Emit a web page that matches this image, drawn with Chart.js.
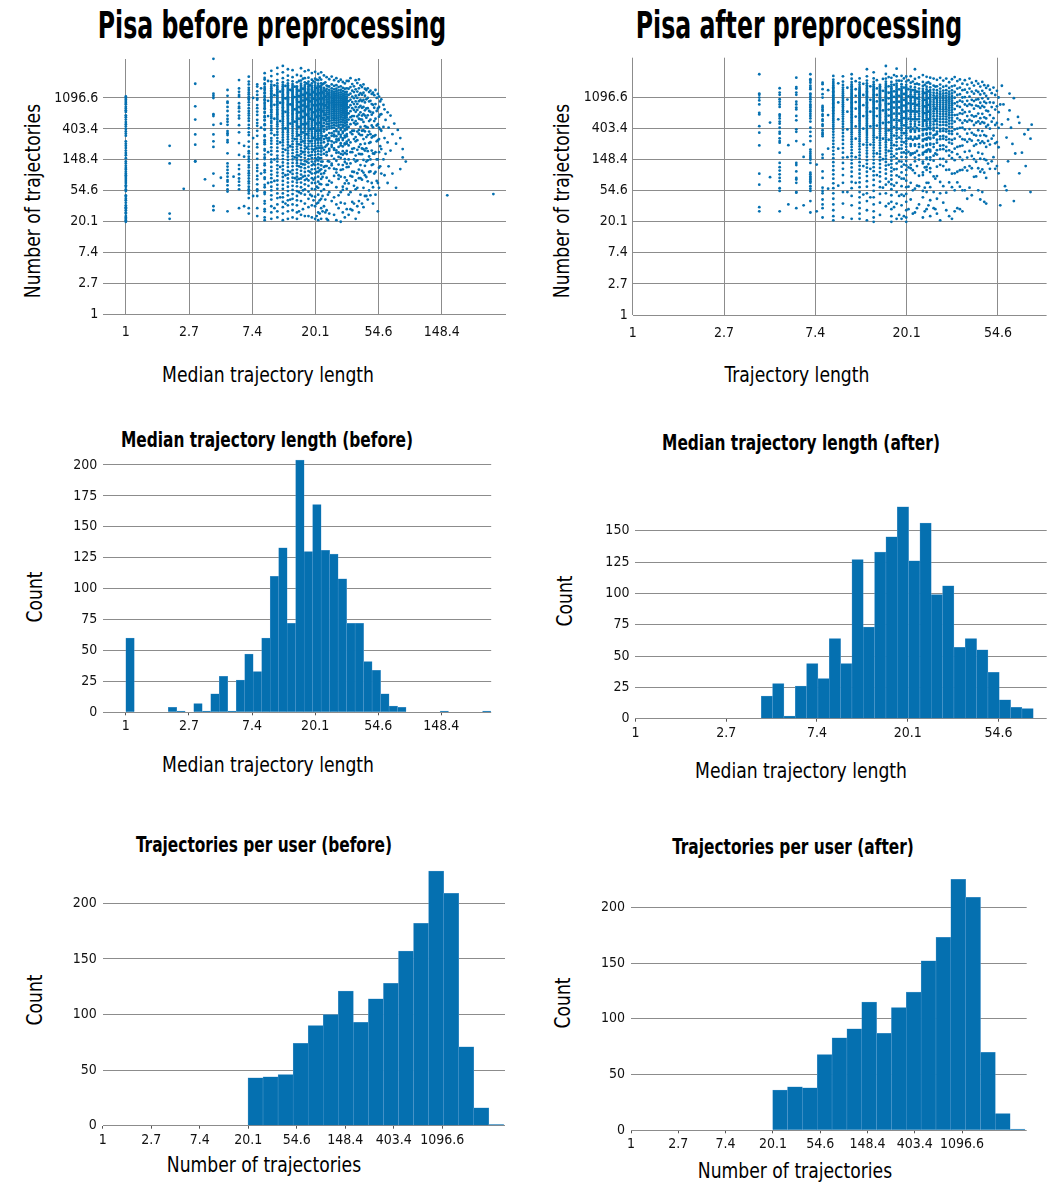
<!DOCTYPE html>
<html>
<head>
<meta charset="utf-8">
<script src="https://cdn.jsdelivr.net/npm/chart.js@4.4.1/dist/chart.umd.min.js"></script>
<style>
  body { margin: 0; background: #fff; }
  #page { position: relative; width: 1048px; height: 1183px; overflow: hidden;
          font-family: "DejaVu Sans Condensed", "DejaVu Sans", sans-serif; color: #000; }
  #page canvas { position: absolute; }
  .lbl { position: absolute; white-space: nowrap; line-height: 1; }
  .big { font-weight: bold; font-size: 37px; transform: translate(-50%, -50%) scaleX(0.71); }
  .sub { font-weight: bold; font-size: 21px; transform: translate(-50%, -50%) scaleX(0.815); }
  .ax { font-size: 21px; transform: translate(-50%, -50%) scaleX(0.91); }
  .ax.rot { transform: translate(-50%, -50%) rotate(-90deg) scaleX(0.91); }
</style>
</head>
<body>
<div id="page">
  <div class="lbl big" style="left:272px; top:25px">Pisa before preprocessing</div>
  <div class="lbl big" style="left:799px; top:25px">Pisa after preprocessing</div>
  <div class="lbl ax" style="left:268px; top:375px">Median trajectory length</div>
  <div class="lbl ax rot" style="left:33px; top:201px">Number of trajectories</div>
  <div class="lbl ax" style="left:797px; top:375px">Trajectory length</div>
  <div class="lbl ax rot" style="left:562px; top:201px">Number of trajectories</div>

  <div class="lbl sub" style="left:267px; top:440px">Median trajectory length (before)</div>
  <div class="lbl ax" style="left:268px; top:765px">Median trajectory length</div>
  <div class="lbl ax rot" style="left:35px; top:597px">Count</div>
  <div class="lbl sub" style="left:801px; top:443px">Median trajectory length (after)</div>
  <div class="lbl ax" style="left:801px; top:771px">Median trajectory length</div>
  <div class="lbl ax rot" style="left:565px; top:601px">Count</div>

  <div class="lbl sub" style="left:264px; top:845px">Trajectories per user (before)</div>
  <div class="lbl ax" style="left:264px; top:1165px">Number of trajectories</div>
  <div class="lbl ax rot" style="left:35px; top:1000px">Count</div>
  <div class="lbl sub" style="left:793px; top:847px">Trajectories per user (after)</div>
  <div class="lbl ax" style="left:795px; top:1171px">Number of trajectories</div>
  <div class="lbl ax rot" style="left:563px; top:1003px">Count</div>
</div>
<script>
// tick labels sit at e^0, e^1, e^2, ...
const tickLabels = ['1', '2.7', '7.4', '20.1', '54.6', '148.4', '403.4', '1096.6'];

// --- per-user scatter, before preprocessing: one column per median value ---
const beforeMedian = [1, 2, 2.5, 3, 3.5, 4, 4.5, 5, 5.5, 6, 6.5, 7, 7.5, 8, 8.5, 9, 9.5, 10, 10.5, 11, 11.5,
  12, 12.5, 13, 13.5, 14, 14.5, 15, 15.5, 16, 16.5, 17, 17.5, 18, 18.5, 19, 19.5, 20, 20.5, 21, 21.5, 22, 22.5,
  23, 23.5, 24, 24.5, 25, 26, 27, 28, 29, 30, 31, 32, 33, 34, 35, 36, 37, 38, 39, 40, 41, 42, 43, 44, 45, 46,
  47, 48, 49, 50, 51, 52, 53, 54, 55, 56, 57, 59, 60, 61, 63, 64, 66, 68, 70, 72, 74, 77, 80, 84, 162, 336];
const beforeTrajectories = [
  [1153,1097,1043,992,944,898,829,781,735,699,626,590,545,503,469,437,403,372,347,324,270,250,233,217,200,185,172,156,141,132,122,114,108,101,95,90,85,80,75,70,65,62,57,54,47,45,42,40,37,34,32,31,29,27,26,24,23,22,21,20],
  [233,132,26,22],
  [58],
  [1740,837,545,337,242,142,140],
  [79],
  [3900,2208,1260,1180,1097,650,610,460,337,270,225,95,64,33,29],
  [478,83],
  [1420,1176,973,934,821,720,620,556,508,460,376,351,330,281,262,183,132,119,107,96,86,77,73,65,57,53,28],
  [86],
  [1960,1495,1339,1212,1141,925,829,788,706,620,567,455,361,255,174,125,110,93,81,73,65,57,31],
  [233,164,33],
  [2186,1863,1703,1525,1422,1313,1236,1141,1085,1033,953,871,788,720,665,620,567,523,459,412,361,330,268,226,196,183,164,151,140,125,116,104,96,89,81,74,69,62,57,54,50,43,31,26],
  [1100,300,46],
  [1703,1585,1360,1212,1085,1033,871,788,706,634,541,487,446,379,322,247,222,180,153,125,114,103,88,79,67,57,54,46,31,24],
  [1500,420,95],
  [2450,2100,1990,1760,1700,1560,1480,1420,1310,1270,1170,1130,1050,1010,940,900,845,790,770,700,675,610,590,540,530,470,455,400,392,330,318,280,262,246,210,200,176,160,152,131,124,106,99,84,80,66,61,52,49,39,36,30,28,23,21],
  [1900,1000,610,190,70],
  [2640,2230,1870,1690,1580,1500,1410,1350,1280,1225,1160,1120,1065,1000,960,905,860,820,760,725,690,640,600,566,520,490,445,410,385,350,300,276,250,222,198,176,150,137,118,104,92,82,72,62,55,47,41,33,27,22],
  [1650,1200,880,560,330,150,75,31],
  [2900,2380,1960,1760,1620,1530,1450,1380,1320,1255,1190,1140,1080,1030,985,935,890,850,805,760,720,680,650,610,575,545,505,470,438,402,365,334,300,272,248,220,196,170,155,140,124,110,98,88,76,66,58,50,43,35,28,23],
  [1350,940,520,260,118,44],
  [3100,2520,2080,1830,1690,1600,1520,1460,1400,1345,1290,1240,1190,1150,1110,1075,1035,995,955,915,880,845,810,775,740,705,670,640,608,575,545,515,482,450,420,392,362,334,306,282,260,236,212,190,170,152,136,122,108,96,85,75,66,58,50,44,38,32,26,21],
  [1620,1080,700,410,205,90,36],
  [2780,2260,1940,1760,1650,1570,1490,1430,1375,1320,1265,1215,1165,1125,1085,1050,1010,970,932,895,860,826,792,758,725,692,660,628,596,566,536,506,476,447,418,390,362,336,312,288,264,242,220,200,182,164,148,132,118,104,92,81,71,62,54,47,40,34,28,22],
  [1420,890,480,230,100,41],
  [2700,2150,1880,1720,1630,1545,1475,1410,1355,1300,1250,1205,1160,1120,1080,1040,1002,966,930,896,862,830,798,766,735,704,672,642,612,582,552,522,492,463,434,404,376,348,322,296,270,246,224,204,184,166,150,134,120,106,94,83,73,64,56,49,42,35,29,23],
  [1580,1130,760,510,290,160,82],
  [2310,1820,1600,1510,1455,1390,1330,1290,1240,1180,1130,1095,1050,1010,965,930,880,845,805,770,735,700,668,630,600,570,540,510,482,455,430,398,370,345,318,290,268,248,228,208,190,172,158,145,133,122,108,96,86,78,71,63,54,46,40,34,27,22],
  [1900,1390,1160,960,820,690,560,430,330,245,170,120,80,52,28],
  [2870,2240,1930,1740,1640,1560,1495,1435,1380,1328,1278,1232,1188,1146,1106,1068,1030,992,956,920,886,852,818,786,754,722,690,658,628,598,568,538,508,478,448,420,392,364,338,312,288,264,240,218,198,180,162,146,131,117,104,92,81,71,61,50,39,25],
  [2050,1480,1210,1010,860,720,590,470,360,270,190,128,86,55,30],
  [2600,2080,1820,1670,1580,1505,1440,1385,1330,1280,1235,1190,1148,1108,1070,1032,996,960,925,890,856,822,790,758,726,694,663,632,602,572,542,513,484,455,427,400,373,347,322,298,275,253,232,212,193,175,158,142,127,113,100,88,77,67,57,48,36,24],
  [1760,1290,1050,830,640,480,340,220,140,80],
  [2700,2120,1860,1700,1600,1520,1450,1390,1335,1283,1233,1186,1141,1098,1057,1017,978,940,903,867,832,798,765,732,700,668,637,606,576,546,516,487,458,430,402,375,349,323,298,274,251,229,208,188,169,151,134,118,103,89,76,64,53,42,32,24],
  [1650,1220,980,760,560,400,270,170,100,48],
  [2460,1980,1760,1620,1530,1455,1390,1332,1278,1228,1180,1134,1090,1048,1008,968,930,893,857,822,788,755,722,690,658,627,596,566,536,507,478,450,422,395,369,344,320,296,273,251,230,210,191,173,156,140,124,109,95,82,70,58,46,34,23],
  [1880,1320,1070,870,690,540,410,300,205,130,78,40],
  [2560,2050,1800,1650,1555,1478,1410,1350,1296,1245,1197,1151,1107,1065,1025,986,948,911,875,840,806,773,741,709,678,647,617,587,558,529,501,473,446,419,393,368,343,319,296,274,252,231,211,192,174,157,141,125,110,96,83,70,57,45,33,22],
  [1990,1520,1240,1030,870,730,600,480,380,290,215,150,100,62,36,24],
  [2400,1950,1740,1610,1520,1448,1384,1326,1273,1223,1176,1131,1088,1046,1006,967,929,892,856,821,787,754,721,689,657,626,596,566,536,507,479,451,424,397,371,346,322,299,277,256,235,215,196,178,161,145,129,114,100,86,73,60,48,37,27,21],
  [2110,1580,1280,1070,900,750,610,490,385,295,220,155,105,68,40,26],
  [2520,1990,1760,1625,1532,1458,1392,1333,1279,1228,1180,1134,1090,1048,1007,968,930,893,857,822,788,755,722,690,659,628,598,568,539,510,482,454,427,400,374,349,325,301,278,256,235,214,194,175,157,140,124,109,94,80,67,54,42,31,22],
  [1710,1310,1080,890,720,570,440,320,220,140,85,46,28],
  [2280,1760,1520,1400,1300,1215,1140,1070,1005,945,888,835,782,730,680,630,582,535,490,445,402,371,290,262,205,180,118,96,57,33],
  [1820,1390,1150,870,640,540,318,226,121,104,41,27],
  [2150,1640,1470,1360,1270,1190,1120,1055,995,938,884,832,783,735,689,645,600,556,512,470,428,395,330,298,236,190,172,121,83,66,29,22],
  [1600,1260,960,810,585,470,275,248,142,66,48,21],
  [2010,1590,1420,1310,1230,1160,1095,1035,978,925,874,826,778,732,688,645,602,560,518,478,438,410,352,301,279,211,199,140,113,75,52,26],
  [2190,1700,1500,1380,1290,1210,1140,1075,1015,958,904,852,802,754,707,662,618,575,532,490,449,415,351,322,270,240,226,169,131,124,71,39],
  [1950,1620,1450,1340,1255,1182,1115,1054,996,942,890,840,792,746,701,658,616,575,535,495,456,421,372,335,318,259,214,205,153,111,88,44,25],
  [2080,1660,1480,1365,1276,1200,1132,1068,1009,953,899,847,797,749,703,658,614,571,529,488,448,401,377,318,287,266,201,186,144,109,98,61,35,21],
  [1870,1560,1400,1295,1212,1140,1075,1014,957,903,851,801,753,707,662,619,577,536,496,457,430,365,341,292,280,225,188,163,127,90,80,47,31],
  [1980,1600,1430,1315,1225,1148,1078,1013,952,894,839,786,735,686,639,593,549,506,464,415,391,333,310,254,236,180,158,107,86,52,37,20],
  [1840,1520,1370,1265,1182,1110,1044,983,925,870,817,767,718,671,626,582,540,499,459,428,370,352,296,281,229,196,175,125,109,62,56,27],
  [1760,1480,1335,1236,1156,1086,1022,962,905,851,800,750,702,656,612,569,527,487,448,402,384,325,306,252,244,184,151,138,84,69,36,23],
  [1900,1500,1340,1230,1145,1070,1002,940,882,827,775,725,677,631,586,543,502,462,423,396,341,318,268,250,198,179,131,117,76,58,30],
  [1900,1480,1212,992,812,665,545,430,282,236,150,118,69,48,25],
  [2080,1560,1260,1040,870,715,590,470,360,260,190,132,88,52,30],
  [1720,1390,1150,960,790,610,540,380,340,212,190,101,86,38,29],
  [1600,1330,1090,900,745,610,490,380,290,215,150,100,64,36],
  [1950,1450,1180,980,820,700,520,465,310,270,170,140,76,57,22],
  [1780,1350,1100,905,745,605,480,370,280,205,145,96,60,33],
  [2000,1500,1210,990,810,640,560,390,345,225,180,108,82,39,27],
  [1650,1280,1040,850,690,550,430,330,245,178,125,82,48],
  [1560,1220,990,800,620,545,380,330,214,178,104,78,36],
  [1700,1300,1030,820,650,505,385,290,210,148,98,60,32],
  [1480,1180,950,735,620,440,372,250,200,122,90,46],
  [1420,1050,780,580,430,310,215,140,85,46],
  [1500,1100,790,625,420,330,196,146,74,41],
  [1330,980,720,520,370,255,165,100,55],
  [1390,1000,700,545,340,262,150,102,47],
  [1250,900,640,450,305,200,125,70],
  [1300,880,680,425,318,182,128,61,36],
  [1200,800,520,320,180,95],
  [1420,900,560,330,190,100,48],
  [1100,720,450,270,150,75],
  [1250,780,470,280,150,70,28],
  [1150,820,600,420,290,190,115,60],
  [980,640,400,230,120],
  [1050,650,380,210,95],
  [880,430,150],
  [760,300,90],
  [540,180],
  [690,260,70],
  [420,120],
  [620,200],
  [340,95],
  [480],
  [250,60],
  [390],
  [300,110],
  [210,160],
  [140],
  [47],
  [49]
];

// --- per-user scatter, after preprocessing ---
const afterMedian = [4, 4.5, 5, 5.5, 6, 6.5, 7, 7.5, 8, 8.5, 9, 9.5, 10, 10.5, 11, 11.5, 12, 12.5, 13, 13.5,
  14, 14.5, 15, 15.5, 16, 16.5, 17, 17.5, 18, 18.5, 19, 19.5, 20, 20.5, 21, 21.5, 22, 22.5, 23, 24, 24.5, 25,
  25.5, 26, 27, 27.5, 28, 29, 30, 31, 32, 33, 34, 35, 36, 37, 38, 39, 40, 41, 42, 43, 44, 45, 46, 47, 48, 49,
  50, 51, 52, 53, 54, 55, 56, 57, 58, 59, 60, 61, 62, 63, 64, 65, 66, 68, 69, 71, 73, 74, 76, 78, 79];
const afterTrajectories = [
  [4150,2300,1236,1188,1085,992,871,665,633,433,351,233,94,66,32,28],
  [487,84],
  [1466,1275,1188,1033,953,871,804,633,602,556,503,469,412,361,340,293,268,255,185,133,116,104,92,82,74,59,54,28],
  [235,35],
  [2060,1525,1451,1275,1188,953,871,788,742,602,523,392,361,268,133,124,101,82,78,70,52,51,31],
  [240,161,34],
  [2300,1960,1863,1755,1590,1495,1422,1236,1188,1110,1033,953,871,829,788,735,692,645,602,556,503,412,361,314,268,204,190,178,166,156,148,133,97,92,86,82,78,74,70,63,58,54,39,27],
  [126,28],
  [1755,1670,1422,1212,1085,829,788,742,706,633,602,539,513,459,437,380,351,334,314,174,156,101,82,60,54,50,41,35,31,23],
  [1380,620,210,58],
  [2180,1930,1800,1690,1600,1520,1450,1385,1330,1275,1220,1170,1120,1075,1030,985,945,905,865,830,795,760,725,690,655,620,585,550,520,488,455,425,395,362,330,300,272,245,220,196,175,155,136,120,105,92,80,69,59,50,42,35,29,24,21],
  [1720,930,540,210,64],
  [2150,1820,1630,1500,1400,1315,1240,1170,1105,1045,985,930,875,825,775,725,680,635,590,548,505,465,425,385,348,312,278,245,214,185,158,133,110,90,70,52,36,23],
  [1490,1020,690,390,160,52],
  [2300,1990,1790,1660,1565,1485,1415,1352,1295,1242,1192,1145,1100,1057,1016,976,938,901,865,830,796,763,731,699,668,638,608,578,549,520,492,464,436,409,383,357,332,308,285,263,242,221,201,182,164,147,131,115,100,86,72,59,46,34,22],
  [1840,1420,1150,940,760,590,430,290,160,70],
  [2010,1760,1640,1525,1450,1390,1338,1290,1245,1203,1163,1125,1088,1052,1017,983,950,918,886,855,825,795,766,737,709,681,654,627,600,574,548,523,498,473,449,425,401,378,355,332,310,288,267,246,226,206,187,169,152,136,121,107,94,82,71,61,52,44,37,31,26,22],
  [1690,1180,850,600,400,240,120,48],
  [2700,2150,1880,1720,1610,1525,1452,1388,1330,1276,1226,1179,1134,1091,1050,1010,972,935,899,864,830,797,765,733,702,672,642,613,584,556,528,501,474,448,422,397,372,348,325,302,280,258,237,217,198,180,162,145,129,114,100,87,74,62,50,39,29,21],
  [1560,1010,690,430,240,110,44],
  [2450,2010,1800,1665,1568,1490,1422,1362,1307,1256,1208,1163,1120,1079,1040,1002,965,929,894,860,827,795,763,732,701,671,641,612,583,555,527,500,473,447,421,396,371,347,324,301,279,258,237,217,198,180,163,147,131,116,102,89,77,65,54,44,35,28,23,20],
  [1900,1460,1180,960,770,600,440,300,180,90],
  [1640,1560,1490,1428,1372,1320,1271,1225,1181,1139,1099,1060,1022,985,949,914,880,847,814,782,751,720,690,660,631,602,574,546,519,492,466,440,415,390,366,342,319,297,275,254,234,214,195,177,160,144,128,113,99,86,73,61,49,37,25],
  [1980,1350,1000,720,480,290,150,60],
  [3000,2320,2000,1810,1685,1590,1512,1444,1383,1327,1275,1226,1180,1136,1094,1054,1015,977,941,906,872,839,807,775,744,714,684,655,626,598,570,543,516,490,464,439,414,390,367,344,322,300,279,259,239,220,202,185,168,152,137,122,108,94,80,66,50,33],
  [2100,1560,1270,1060,890,740,610,490,380,280,195,125,72,36],
  [2050,1800,1650,1545,1462,1392,1330,1274,1222,1174,1128,1085,1044,1004,966,929,893,858,824,791,759,727,696,666,636,607,578,550,522,495,468,442,416,391,366,342,319,296,274,253,233,213,194,176,159,143,128,114,101,89,78,67,57,47,38,30,24,20],
  [2240,1640,1330,1110,935,785,650,530,420,320,235,165,108,64,32],
  [2750,2150,1870,1700,1580,1485,1405,1334,1270,1211,1156,1104,1054,1006,960,915,871,828,786,745,705,666,628,591,554,518,483,449,415,382,350,319,289,260,232,205,179,154,131,109,89,70,52,36,22],
  [1870,1410,1150,950,790,650,520,400,300,210,140,85,46,25],
  [2190,1860,1670,1545,1448,1368,1298,1235,1177,1123,1072,1023,976,931,887,845,804,764,725,687,650,614,578,543,509,476,443,411,380,350,320,291,263,236,210,185,161,139,118,98,80,63,48,34,22],
  [2010,1500,1220,1010,840,690,560,445,345,258,186,126,80,46,24],
  [2140,1820,1640,1520,1425,1346,1277,1215,1158,1105,1055,1008,963,920,878,838,799,761,724,688,653,619,586,553,521,490,460,430,401,373,346,320,295,270,246,223,201,180,160,141,123,106,90,75,61,49,38,29,23,20],
  [1900,1420,1130,900,710,550,410,290,190,115,62,30],
  [2160,1750,1540,1400,1295,1208,1132,1063,999,939,882,828,776,726,678,632,588,545,504,464,425,380,362,309,290,244,229,180,171,125,112,70,41],
  [1820,1380,1110,890,700,540,400,280,180,105,55,26],
  [2700,1980,1680,1505,1380,1280,1195,1120,1052,989,930,874,821,770,721,674,629,585,543,502,463,431,379,360,306,292,241,230,185,158,140,96,58,27],
  [1700,1310,1060,860,690,540,405,290,195,120,64,31],
  [2080,1660,1450,1310,1200,1108,1027,953,885,821,760,702,647,595,545,497,451,398,372,318,296,243,221,170,148,88,63,35],
  [2240,1800,1580,1440,1335,1250,1177,1112,1052,996,944,894,847,802,759,718,678,640,603,567,532,498,465,433,395,380,337,322,281,270,230,221,183,174,139,131,98,90,54,44,23],
  [1640,1250,1010,820,660,520,395,285,190,115,60,28],
  [2120,1740,1540,1410,1310,1228,1157,1094,1036,982,932,884,839,796,755,715,677,640,604,569,535,502,470,439,401,386,344,331,292,281,243,233,199,190,158,150,117,106,70,52,30],
  [1780,1330,1070,860,690,540,410,300,205,128,70,34],
  [2060,1700,1510,1385,1288,1208,1139,1077,1021,969,920,874,830,788,748,710,673,637,602,568,535,503,472,442,406,392,349,337,297,286,248,238,202,192,159,147,112,99,61,40,24],
  [2000,1600,1400,1270,1170,1085,1010,940,875,815,757,702,649,598,549,502,457,413,380,322,298,244,221,168,143,86,52,31],
  [1550,1080,760,520,330,180,80,30],
  [1920,1560,1375,1250,1155,1075,1004,938,876,817,760,705,652,601,552,504,458,413,362,336,280,255,200,174,118,87,42,26],
  [2050,1650,1450,1315,1213,1128,1053,985,921,860,802,746,692,640,590,541,494,448,397,368,312,285,231,205,151,125,72,50,21],
  [1880,1540,1360,1238,1143,1063,992,926,864,805,749,695,643,593,544,497,452,401,372,316,289,234,207,151,120,63,37],
  [2000,1580,1380,1250,1150,1068,995,928,865,805,748,693,640,589,540,492,446,394,364,307,279,223,195,138,106,51,29],
  [1780,1480,1315,1200,1110,1033,963,898,837,778,722,668,616,566,517,470,424,372,342,285,256,199,168,107,71,24],
  [1960,1560,1370,1240,1140,1057,983,915,851,790,732,676,622,570,520,471,423,369,337,278,247,188,155,94,61,22],
  [2100,1600,1300,1080,900,750,620,500,390,290,210,145,95,55,28],
  [1850,1450,1180,940,830,625,555,400,338,222,176,100,71,31],
  [1950,1500,1210,985,805,655,525,410,310,228,160,105,62,30],
  [1700,1380,1090,950,730,645,480,412,285,232,146,106,55,28],
  [1900,1400,1100,870,680,520,390,280,190,115,55],
  [1650,1280,980,830,600,500,340,262,158,104,42],
  [2000,1450,1120,880,690,530,395,285,195,120,60],
  [1750,1320,1010,850,615,510,350,272,166,112,47],
  [1600,1230,970,760,590,450,330,230,150,85],
  [1850,1360,1020,840,600,485,320,242,138,86],
  [1700,1300,1030,820,650,505,380,275,185,112,55],
  [1550,1200,920,780,560,470,320,252,152,100,41],
  [1800,1350,1060,830,645,495,370,265,178,108,52],
  [1620,1240,950,800,575,480,325,252,150,97,38],
  [1480,1150,910,715,555,425,315,222,145,82,36],
  [1590,1050,700,450,270,130],
  [1400,930,620,400,240,110],
  [1250,800,500,290,140],
  [1500,920,560,320,160],
  [1180,740,450,250,110],
  [1350,820,480,260,120],
  [1090,680,410,220,95],
  [870,34],
  [1590,459],
  [871],
  [63],
  [300,55],
  [539,140],
  [1236,720],
  [412],
  [245],
  [1065,39],
  [180],
  [584],
  [483,95],
  [185],
  [334],
  [120],
  [387],
  [290,52],
  [455]
];

// --- histogram counts (equal-width bins on a log scale) ---
const beforeMedianCounts = [60,0,0,0,0,4,1,0,7,1,15,29,1,26,47,33,60,110,133,72,204,130,168,131,128,108,72,72,41,34,15,5,4,0,0,0,0,1,0,0,0,0,1];
const beforeMedianRange = [1, 326];
const afterMedianCounts = [18,28,2,26,44,32,64,44,127,73,133,145,169,126,156,99,106,57,64,55,37,15,9,8];
const afterMedianRange = [4, 80];
const beforeUserCounts = [43,44,46,74,90,100,121,93,114,128,157,182,229,209,71,16,1];
const beforeUserRange = [20, 3913];
const afterUserCounts = [36,39,38,68,83,91,115,87,110,124,152,173,225,209,70,15,1];
const afterUserRange = [20, 4150];

const BLUE = '#0570b0';
const GRID = '#8c8c8c';
Chart.defaults.font.family = '"DejaVu Sans Condensed", "DejaVu Sans", sans-serif';
Chart.defaults.color = '#111';

function toPoints(xs, ys) {
  const pts = [];
  xs.forEach((x, i) => ys[i].forEach(y => pts.push({ x: x, y: y })));
  return pts;
}

function toBars(counts, range) {
  const step = Math.log(range[1] / range[0]) / counts.length;
  return counts.map((c, i) => ({ x: range[0] * Math.exp((i + 0.5) * step), y: c }));
}

// a canvas placed on the page at `box`
function makeCanvas(box) {
  const c = document.createElement('canvas');
  c.style.left = box.x + 'px';
  c.style.top = box.y + 'px';
  c.style.width = box.w + 'px';
  c.style.height = box.h + 'px';
  c.width = box.w;
  c.height = box.h;
  document.getElementById('page').appendChild(c);
  return c;
}

function logAxis(nTicks, lo, hi, pad, opts) {
  const pos = tickLabels.slice(0, nTicks).map((_, k) => Math.exp(k));
  return Object.assign({
    type: 'logarithmic',
    min: lo,
    max: hi,
    afterBuildTicks: s => { s.ticks = pos.map(v => ({ value: v })); },
    ticks: { autoSkip: false, maxRotation: 0, padding: pad, font: { size: 14 }, callback: (v, i) => tickLabels[i] },
    border: { display: false }
  }, opts);
}

// box = canvas rectangle, plot = chart area wanted on the page
function drawScatter(box, plot, points, xTicks, xr, yr) {
  const padding = { left: 0, top: plot.t - box.y, right: box.x + box.w - plot.r, bottom: 0 };
  new Chart(makeCanvas(box), {
    type: 'scatter',
    data: { datasets: [{ data: points, backgroundColor: BLUE, borderWidth: 0, pointRadius: 1.4, pointHoverRadius: 0, clip: false }] },
    options: {
      responsive: false, animation: false, events: [],
      layout: { padding },
      plugins: { legend: { display: false }, tooltip: { enabled: false } },
      scales: {
        x: logAxis(xTicks, xr[0], xr[1], 10, {
          grid: { color: GRID, drawTicks: false },
          afterFit: s => { s.height = box.y + box.h - plot.b; }
        }),
        y: logAxis(8, yr[0], yr[1], 5, {
          grid: { color: GRID, drawTicks: false },
          afterFit: s => { s.width = plot.l - box.x; }
        })
      }
    }
  });
}

function drawHist(box, plot, bars, xTicks, xr, yMax, yStep) {
  const padding = { left: 0, top: plot.t - box.y, right: box.x + box.w - plot.r, bottom: 0 };
  new Chart(makeCanvas(box), {
    type: 'bar',
    data: { datasets: [{ data: bars, backgroundColor: BLUE, borderColor: '#5d9fd1', borderWidth: 0.5,
                         categoryPercentage: 1, barPercentage: 1 }] },
    options: {
      responsive: false, animation: false, events: [],
      layout: { padding },
      plugins: { legend: { display: false }, tooltip: { enabled: false } },
      scales: {
        x: logAxis(xTicks, xr[0], xr[1], 3, {
          offset: false,
          grid: { offset: false, drawOnChartArea: false, drawTicks: true, tickLength: 3, color: '#555' },
          afterFit: s => { s.height = box.y + box.h - plot.b; }
        }),
        y: {
          min: 0, max: yMax,
          ticks: { stepSize: yStep, includeBounds: false, font: { size: 14 }, padding: 6 },
          grid: { color: GRID, drawTicks: false },
          border: { display: false },
          afterFit: s => { s.width = plot.l - box.x; }
        }
      }
    }
  });
}

// top row: trajectories per user against median length
drawScatter({ x: 40, y: 40, w: 480, h: 310 }, { l: 103.3, t: 59, r: 506, b: 314.3 },
  toPoints(beforeMedian, beforeTrajectories), 6, [Math.exp(-0.3145), Math.exp(6.017)], [1, Math.exp(8.262)]);
drawScatter({ x: 570, y: 40, w: 478, h: 310 }, { l: 632.7, t: 57.7, r: 1047, b: 315 },
  toPoints(afterMedian, afterTrajectories), 5, [1, Math.exp(4.533)], [1, Math.exp(8.273)]);

// middle row: median trajectory length histograms
drawHist({ x: 40, y: 430, w: 470, h: 310 }, { l: 103.3, t: 452.6, r: 491.2, b: 712.3 },
  toBars(beforeMedianCounts, beforeMedianRange), 6, [Math.exp(-0.3097), Math.exp(5.79)], 210, 25);
drawHist({ x: 570, y: 480, w: 478, h: 265 }, { l: 635.4, t: 503.1, r: 1046.7, b: 718.7 },
  toBars(afterMedianCounts, afterMedianRange), 5, [1, Math.exp(4.53)], 172, 25);

// bottom row: trajectories per user histograms
drawHist({ x: 40, y: 850, w: 480, h: 300 }, { l: 102.7, t: 863.2, r: 505, b: 1125.7 },
  toBars(beforeUserCounts, beforeUserRange), 8, [1, Math.exp(8.295)], 235, 50);
drawHist({ x: 570, y: 855, w: 470, h: 300 }, { l: 631, t: 871.6, r: 1026.7, b: 1130.3 },
  toBars(afterUserCounts, afterUserRange), 8, [1, Math.exp(8.366)], 232, 50);
</script>
</body>
</html>
